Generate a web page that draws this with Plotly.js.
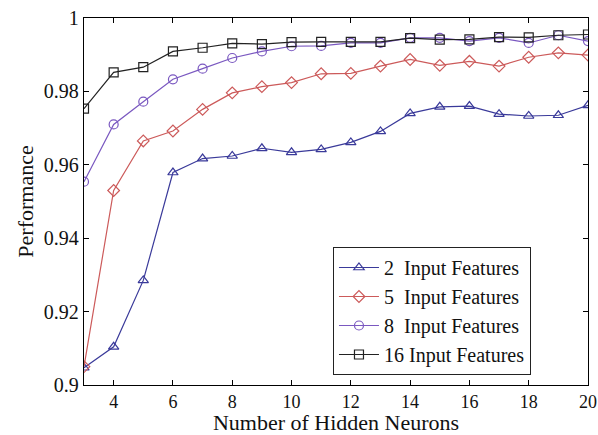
<!DOCTYPE html>
<html>
<head>
<meta charset="utf-8">
<script src="https://cdn.plot.ly/plotly-3.0.1.min.js"></script>
<style>
  html, body { margin: 0; padding: 0; background: #fff; }
  #chart { width: 598px; height: 435px; }
</style>
</head>
<body>
<div id="chart"></div>
<script>
// Number of hidden neurons (x axis)
const hiddenNeurons = [3, 4, 5, 6, 7, 8, 9, 10, 11, 12, 13, 14, 15, 16, 17, 18, 19, 20];

// Performance for each input-feature count
const perf2 = [0.9047, 0.9104, 0.9285, 0.9579, 0.9617, 0.9624, 0.9645, 0.9634, 0.9642, 0.9661,
               0.9691, 0.9740, 0.9758, 0.9760, 0.9738, 0.9733, 0.9735, 0.9762];
const perf5 = [0.9050, 0.9530, 0.9665, 0.9692, 0.9751, 0.9796, 0.9813, 0.9824, 0.9848, 0.9849,
               0.9869, 0.9887, 0.9871, 0.9882, 0.9869, 0.9893, 0.9905, 0.9899];
const perf8 = [0.9554, 0.9710, 0.9772, 0.9833, 0.9862, 0.9891, 0.9909, 0.9923, 0.9924, 0.9932,
               0.9932, 0.9946, 0.9946, 0.9937, 0.9946, 0.9932, 0.9953, 0.9937];
const perf16 = [0.9753, 0.9852, 0.9866, 0.9909, 0.9919, 0.9931, 0.9929, 0.9934, 0.9935, 0.9935,
                0.9935, 0.9945, 0.9941, 0.9942, 0.9948, 0.9947, 0.9953, 0.9955];

const seriesNames = ['2  Input Features', '5  Input Features', '8  Input Features', '16 Input Features'];

const FONT = "'Liberation Serif', 'DejaVu Serif', serif";

function series(y, name, color, symbol) {
  return {
    x: hiddenNeurons, y: y, name: name, type: 'scatter', mode: 'lines+markers',
    line: { color: color, width: 1.2 },
    marker: { symbol: symbol, size: 9, color: color, line: { color: color, width: 1.2 } }
  };
}

const traces = [
  series(perf2, seriesNames[0], '#3a3a9a', 'triangle-up-open'),
  series(perf5, seriesNames[1], '#cc5a5a', 'diamond-open'),
  series(perf8, seriesNames[2], '#7a58c0', 'circle-open'),
  series(perf16, seriesNames[3], '#222222', 'square-open')
];

const axisCommon = {
  showline: true, linecolor: '#000', linewidth: 1.2, mirror: 'ticks',
  ticks: 'inside', ticklen: 5, tickcolor: '#000', tickwidth: 1,
  showgrid: false, zeroline: false
};

const layout = {
  width: 598, height: 435,
  font: { family: FONT },
  margin: { l: 84, r: 10, t: 18, b: 50 },
  paper_bgcolor: '#fff', plot_bgcolor: '#fff',
  showlegend: true,
  xaxis: Object.assign({}, axisCommon, {
    range: [3, 20], tickvals: [4, 6, 8, 10, 12, 14, 16, 18, 20],
    tickfont: { family: FONT, size: 18, color: '#111' },
    title: { text: 'Number of Hidden Neurons', font: { family: FONT, size: 22, color: '#111' }, standoff: 0 }
  }),
  yaxis: Object.assign({}, axisCommon, {
    range: [0.9, 1], tickvals: [0.9, 0.92, 0.94, 0.96, 0.98, 1],
    ticktext: ['0.9', '0.92', '0.94', '0.96', '0.98', '1'],
    tickfont: { family: FONT, size: 20, color: '#111' },
    title: { text: 'Performance', font: { family: FONT, size: 22, color: '#111' }, standoff: 4 }
  }),
  legend: {
    x: 0.494, y: 0.376, xanchor: 'left', yanchor: 'top',
    bgcolor: '#fff', bordercolor: '#222', borderwidth: 1,
    font: { family: FONT, size: 20, color: '#111' },
    tracegroupgap: 0, itemwidth: 40
  }
};

Plotly.newPlot('chart', traces, layout, { displayModeBar: false, staticPlot: true });
</script>
</body>
</html>
